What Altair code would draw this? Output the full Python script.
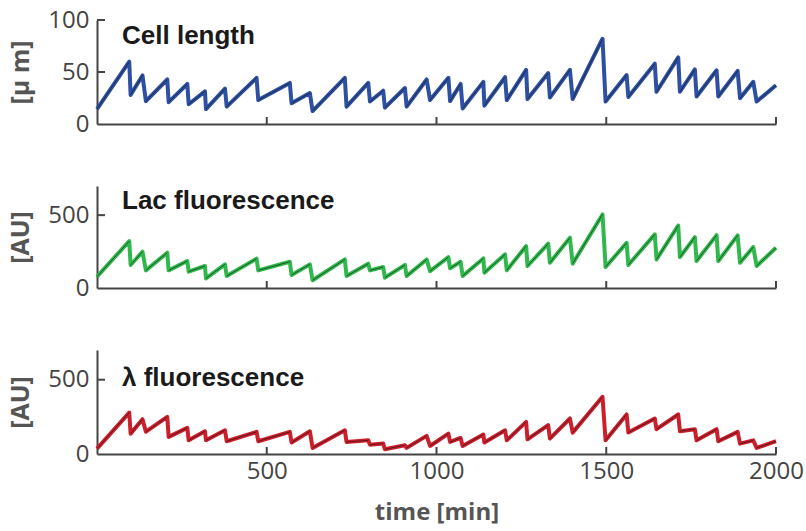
import altair as alt
import pandas as pd

# ---- data (alternating division trough / pre-division peak) ----
time_min = [0, 95, 99, 134, 144, 207, 211, 266, 270, 318, 321, 377, 382, 470, 475,
            568, 573, 627, 635, 730, 735, 799, 804, 843, 848, 907, 912, 971, 981,
            1035, 1040, 1071, 1077, 1138, 1141, 1202, 1207, 1264, 1268, 1329, 1334,
            1393, 1401, 1489, 1498, 1560, 1565, 1643, 1648, 1712, 1717, 1761, 1766,
            1825, 1830, 1887, 1894, 1933, 1943, 2000]

cell_length = [14.4, 60, 28, 46.7, 22, 42.8, 21, 38.5, 19, 31.4, 14.4, 34, 16.7, 44.4, 23,
               39.5, 20, 29.7, 12.4, 44.4, 16.7, 39.5, 21.6, 32, 15.7, 34.6, 16.7, 42.8, 23,
               44.4, 22, 38.5, 15, 40.5, 17.6, 45, 23, 52, 24, 49, 25.5,
               52, 24, 82, 21.6, 47, 26, 58, 31, 64, 31, 52.6, 26.5,
               51.6, 26.5, 51, 24.8, 40.5, 21.6, 37.2]

lac_fluor = [78, 322, 158, 249, 121, 242, 121, 185, 112, 151, 66, 162, 82, 201, 121,
             180, 89, 162, 53, 196, 82, 167, 121, 144, 71, 158, 82, 196, 116,
             212, 135, 180, 82, 203, 105, 231, 121, 288, 151, 304, 173,
             345, 167, 505, 144, 310, 158, 368, 196, 429, 212, 349, 185,
             363, 185, 361, 173, 281, 151, 276]

lambda_fluor = [36, 279, 137, 234, 150, 250, 115, 176, 92, 153, 92, 160, 86, 149, 86,
                149, 77, 153, 41, 160, 81, 92, 63, 70, 32, 59, 41, 122, 54,
                137, 81, 108, 54, 131, 77, 160, 92, 216, 99, 194, 104,
                239, 144, 385, 92, 266, 144, 239, 167, 266, 153, 167, 92,
                167, 86, 149, 70, 92, 41, 86]

x_ticks = [500, 1000, 1500, 2000]

W = 679
LABEL_FONT = "Open Sans"
AX_COLOR = "#444444"


def panel(values, color, ydom, yvals, ytitle, label, label_y, h, bottom):
    df = pd.DataFrame({"t": time_min, "v": values, "i": list(range(len(values)))})
    df["seg"] = df["i"] // 2
    xscale = alt.Scale(domain=[0, 2000], nice=False, zero=False)
    yscale = alt.Scale(domain=ydom, nice=False)
    if bottom:
        xaxis = alt.Axis(values=x_ticks, ticks=False, title="time [min]", grid=False,
                         format="d", labelFlush=False,
                         domainColor=AX_COLOR, domainWidth=2,
                         labelFont=LABEL_FONT, labelFontSize=24, labelColor=AX_COLOR,
                         labelPadding=5, titleFont="Open Sans", titleFontSize=24,
                         titleFontWeight="bold", titleColor="#555555", titlePadding=17)
    else:
        xaxis = alt.Axis(values=x_ticks, ticks=False, labels=False, title=None, grid=False,
                         domainColor=AX_COLOR, domainWidth=2)
    yaxis = alt.Axis(values=yvals, ticks=False, title=ytitle, grid=False, format="d",
                     domainColor=AX_COLOR, domainWidth=2,
                     labelFont=LABEL_FONT, labelFontSize=24, labelColor=AX_COLOR,
                     labelPadding=8, titleFont="Open Sans", titleFontSize=25,
                     titleFontWeight="bold", titleColor="#555555", titlePadding=14)
    base = alt.Chart(df)
    line = base.mark_line(color=color, strokeWidth=4, strokeJoin="round").encode(
        x=alt.X("t:Q", scale=xscale, axis=xaxis),
        y=alt.Y("v:Q", scale=yscale, axis=yaxis),
        order="i:Q",
    )
    fit = base.mark_line(color="#111111", strokeWidth=0.8, opacity=0.75).encode(
        x="t:Q", y="v:Q", detail="seg:N", order="i:Q"
    )
    xt = alt.Chart(pd.DataFrame({"t": x_ticks})).mark_rule(color=AX_COLOR, strokeWidth=2).encode(
        x="t:Q", y=alt.value(h), y2=alt.value(h - 7)
    )
    yt = alt.Chart(pd.DataFrame({"v": [y for y in yvals if y != 0]})).mark_rule(
        color=AX_COLOR, strokeWidth=2).encode(
        y="v:Q", x=alt.value(0), x2=alt.value(8)
    )
    txt = alt.Chart(pd.DataFrame({"label": [label]})).mark_text(
        align="left", baseline="middle", font="Liberation Sans", fontWeight="bold",
        fontSize=26, color="#1a1a1a").encode(
        x=alt.value(25), y=alt.value(label_y), text="label:N")
    return alt.layer(line, fit, xt, yt, txt).properties(width=W, height=h)


p1 = panel(cell_length, "#2d50a2", [0, 100], [0, 50, 100], "[μ m]", "Cell length", 16, 104, False)
p2 = panel(lac_fluor, "#30b84c", [0, 700], [0, 500], "[AU]", "Lac fluorescence", 15, 102, False)
p3 = panel(lambda_fluor, "#cc1f2c", [0, 700], [0, 500], "[AU]", "λ fluorescence", 28, 104, True)

chart = alt.vconcat(p1, p2, p3, spacing=62, bounds="flush").properties(
    padding={"left": 8, "top": 8, "right": 2, "bottom": 2}
).configure_view(stroke=None)

chart.save("out.html", embed_options={"renderer": "svg", "actions": False})
